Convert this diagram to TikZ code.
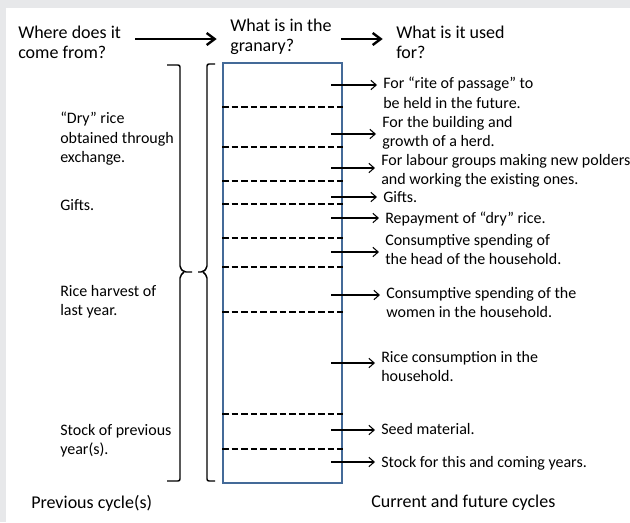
\documentclass[tikz,border=0pt]{standalone}
\usepackage{fontspec}
\setmainfont{Carlito}
\usetikzlibrary{arrows.meta}
\definecolor{pagegrey}{RGB}{231,232,234}
\definecolor{granaryblue}{RGB}{68,106,152}
\begin{document}
\begin{tikzpicture}[x=0.75pt,y=-0.75pt,
  small/.style={inner sep=0pt, anchor=north west, align=left,
    font=\fontsize{12}{14.5}\selectfont},
  large/.style={inner sep=0pt, anchor=north west, align=left,
    font=\fontsize{13.5}{15}\selectfont},
  flow/.style={-{Straight Barb[length=6pt,width=9pt]}, line width=1.8pt},
  use/.style={-{Straight Barb[length=4pt,width=7pt]}, line width=0.8pt, shorten >=4.5pt},
  shelf/.style={line width=2pt, dash pattern=on 5pt off 2.2pt},
  brace/.style={line width=1.1pt, rounded corners=1.5pt},
  granary/.style={draw=granaryblue, line width=1.2pt, inner sep=0pt,
    minimum width=89.25pt, minimum height=315pt, anchor=north west}]

% page background
\fill[pagegrey] (0,0) rectangle (630,522);
\fill[white] (6,8) rectangle (630,522);
\useasboundingbox (0,0) rectangle (630,522);

% column headings
\node[large] (where) at (18,26) {Where does it\\come from?};
\node[large] (what) at (230,19) {What is in the\\granary?};
\node[large] (usedfor) at (396,26) {What is it used\\for?};
\coordinate (a1) at (135,39);
\coordinate (a2) at (341,39);
\draw[flow, shorten >=10pt] (a1) -- (a1 -| what.west);
\draw[flow, shorten >=10pt] (a2) -- (a2 -| usedfor.west);

% the granary with its shelves
\node[granary] (box) at (222,62) {};
\foreach \y in {107,147,181,204,238,267,312,414,449}
  \draw[shelf] (box.west |- 0,\y) -- (box.east |- 0,\y);

% braces between sources and granary
\draw[brace] (167,65) -- (180,65) -- (180,268) -- (184,272) -- (192,272);
\draw[brace] (184,272) -- (180,276) -- (180,481) -- (167,481);
\draw[brace] (215,64) -- (207,64) -- (207,268) -- (203,272) -- (198,272);
\draw[brace] (203,272) -- (207,276) -- (207,481) -- (215,481);

% sources
\node[small] (dry) at (60,112) {“Dry” rice\\obtained through\\exchange.};
\node[small] (gifts) at (60,199) {Gifts.};
\node[small] (harvest) at (60,285) {Rice harvest of\\last year.};
\node[small] (stock) at (60,424) {Stock of previous\\year(s).};

% uses
\node[small] (rite) at (383,77) {For “rite of passage” to\\ be held in the future.};
\node[small] (herd) at (382,116) {For the building and\\growth of a herd.};
\node[small] (labour) at (381,154) {For labour groups making new polders\\and working the existing ones.};
\node[small] (gift) at (383,191) {Gifts.};
\node[small] (repay) at (385,212) {Repayment of “dry” rice.};
\node[small] (headh) at (385,234) {Consumptive spending of\\the head of the household.};
\node[small] (women) at (386,287) {Consumptive spending of the\\women in the household.};
\node[small] (cons) at (381,351) {Rice consumption in the\\household.};
\node[small] (seed) at (381,423) {Seed material.};
\node[small] (keep) at (381,456) {Stock for this and coming years.};

\foreach \n/\y in {rite/85,herd/134,labour/168,gift/197,repay/218,
                   headh/252,women/295,cons/363,seed/430,keep/462}{
  \coordinate (s-\n) at (331,\y);
  \draw[use] (s-\n) -- (s-\n -| \n.west);
}

% cycles
\node[large] (prev) at (31,495) {Previous cycle(s)};
\node[large] (curr) at (371,495) {Current and future cycles};
\end{tikzpicture}
\end{document}
